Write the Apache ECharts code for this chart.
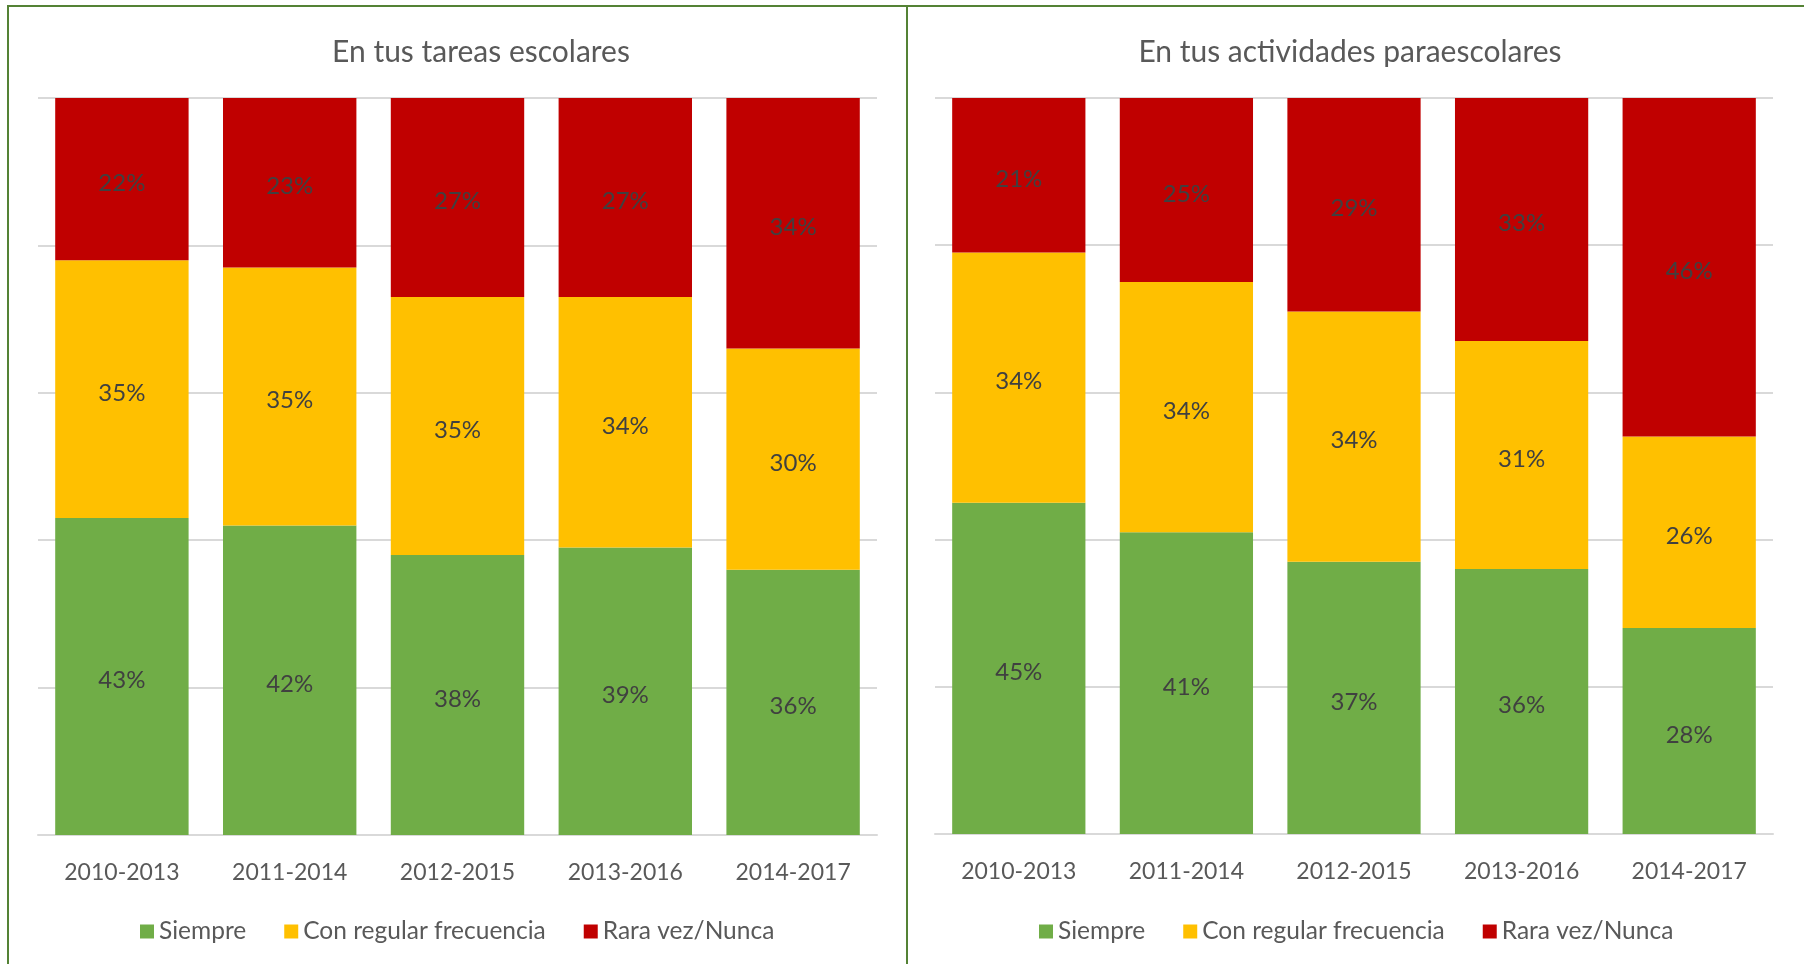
<!DOCTYPE html>
<html>
<head>
<meta charset="utf-8">
<script src="https://cdn.jsdelivr.net/npm/echarts@6/dist/echarts.min.js"></script>
<style>
html,body{margin:0;padding:0;background:#fff;}
#c{width:1804px;height:964px;}
</style>
</head>
<body>
<div id="c"></div>
<script>
const categories = ['2010-2013', '2011-2014', '2012-2015', '2013-2016', '2014-2017'];
const seriesNames = ['Siempre', 'Con regular frecuencia', 'Rara vez/Nunca'];
const titleLeft = 'En tus tareas escolares';
const titleRight = 'En tus actividades paraescolares';

// Left chart: En tus tareas escolares
const leftSiempre = [43, 42, 38, 39, 36];
const leftRegular = [35, 35, 35, 34, 30];
const leftRara = [22, 23, 27, 27, 34];

// Right chart: En tus actividades paraescolares
const rightSiempre = [45, 41, 37, 36, 28];
const rightRegular = [34, 34, 34, 31, 26];
const rightRara = [21, 25, 29, 33, 46];

const colors = ['#70AD47', '#FFC000', '#C00000'];
const FONT = 'Lato';

const chart = echarts.init(document.getElementById('c'));

function xAx(gi) {
  return {
    type: 'category', gridIndex: gi, data: categories,
    axisLine: {lineStyle: {color: '#D9D9D9', width: 2}},
    axisTick: {show: false},
    axisLabel: {color: '#595959', fontSize: 23, fontFamily: FONT, margin: 26}
  };
}
function yAx(gi) {
  return {
    type: 'value', gridIndex: gi, min: 0, max: 100, interval: 20,
    axisLine: {show: false}, axisTick: {show: false},
    axisLabel: {show: false},
    splitLine: {lineStyle: {color: '#D9D9D9', width: 2}}
  };
}
function ser(name, data, gi, stack, ci) {
  return {
    type: 'bar', name: name, data: data, xAxisIndex: gi, yAxisIndex: gi, stack: stack,
    barCategoryGap: '20.5%',
    itemStyle: {color: colors[ci]},
    label: {show: true, position: 'inside', offset: [0, 4], formatter: '{c}%', color: '#404040', fontSize: 24, fontFamily: FONT},
    emphasis: {disabled: true}
  };
}
const legendCommon = {
  data: seriesNames, itemWidth: 14, itemHeight: 14, itemGap: 38, itemTextGap: 7,
  icon: 'rect', selectedMode: false, padding: 0,
  textStyle: {color: '#595959', fontSize: 24.5, fontFamily: FONT}
};

chart.setOption({
  animation: false,
  backgroundColor: '#fff',
  title: [
    {text: titleLeft, left: 476, top: 47, textAlign: 'center', textVerticalAlign: 'middle',
     textStyle: {color: '#595959', fontSize: 30, fontWeight: 'normal', fontFamily: FONT}},
    {text: titleRight, left: 1345, top: 47, textAlign: 'center', textVerticalAlign: 'middle',
     textStyle: {color: '#595959', fontSize: 30, fontWeight: 'normal', fontFamily: FONT}}
  ],
  legend: [
    Object.assign({}, legendCommon, {left: 140, top: 919}),
    Object.assign({}, legendCommon, {left: 1039, top: 919})
  ],
  grid: [
    {left: 38, top: 98, width: 839, height: 737},
    {left: 935, top: 98, width: 838, height: 736}
  ],
  xAxis: [xAx(0), xAx(1)],
  yAxis: [yAx(0), yAx(1)],
  series: [
    ser(seriesNames[0], leftSiempre, 0, 'L', 0),
    ser(seriesNames[1], leftRegular, 0, 'L', 1),
    ser(seriesNames[2], leftRara, 0, 'L', 2),
    ser(seriesNames[0], rightSiempre, 1, 'R', 0),
    ser(seriesNames[1], rightRegular, 1, 'R', 1),
    ser(seriesNames[2], rightRara, 1, 'R', 2)
  ],
  graphic: [
    {type: 'line', shape: {x1: 7, y1: 6, x2: 1804, y2: 6}, style: {stroke: '#548235', lineWidth: 2}},
    {type: 'line', shape: {x1: 8, y1: 5, x2: 8, y2: 964}, style: {stroke: '#548235', lineWidth: 2}},
    {type: 'line', shape: {x1: 907, y1: 5, x2: 907, y2: 964}, style: {stroke: '#548235', lineWidth: 2}}
  ]
});
</script>
</body>
</html>
